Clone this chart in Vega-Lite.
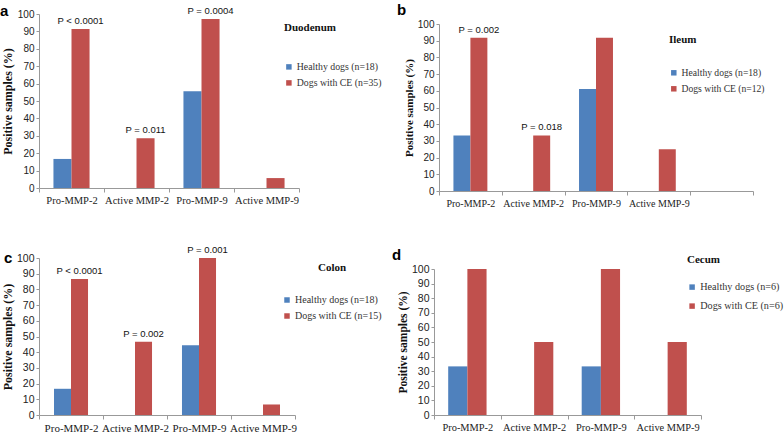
{
  "$schema": "https://vega.github.io/schema/vega-lite/v6.json",
  "padding": {"left": 0, "top": 3, "right": 0, "bottom": 0},
  "background": "white",
  "datasets": {
    "a": [
      {"cat": "Pro-MMP-2", "group": "Healthy dogs (n=18)", "value": 16.7},
      {"cat": "Active MMP-2", "group": "Healthy dogs (n=18)", "value": 0},
      {"cat": "Pro-MMP-9", "group": "Healthy dogs (n=18)", "value": 55.6},
      {"cat": "Active MMP-9", "group": "Healthy dogs (n=18)", "value": 0},
      {"cat": "Pro-MMP-2", "group": "Dogs with CE (n=35)", "value": 91.4, "p": "P < 0.0001"},
      {"cat": "Active MMP-2", "group": "Dogs with CE (n=35)", "value": 28.6, "p": "P = 0.011"},
      {"cat": "Pro-MMP-9", "group": "Dogs with CE (n=35)", "value": 97.1, "p": "P = 0.0004"},
      {"cat": "Active MMP-9", "group": "Dogs with CE (n=35)", "value": 5.7}
    ],
    "b": [
      {"cat": "Pro-MMP-2", "group": "Healthy dogs (n=18)", "value": 33.3},
      {"cat": "Active MMP-2", "group": "Healthy dogs (n=18)", "value": 0},
      {"cat": "Pro-MMP-9", "group": "Healthy dogs (n=18)", "value": 61.1},
      {"cat": "Active MMP-9", "group": "Healthy dogs (n=18)", "value": 0},
      {"cat": "Pro-MMP-2", "group": "Dogs with CE (n=12)", "value": 91.7, "p": "P = 0.002"},
      {"cat": "Active MMP-2", "group": "Dogs with CE (n=12)", "value": 33.3, "p": "P = 0.018"},
      {"cat": "Pro-MMP-9", "group": "Dogs with CE (n=12)", "value": 91.7},
      {"cat": "Active MMP-9", "group": "Dogs with CE (n=12)", "value": 25.0}
    ],
    "c": [
      {"cat": "Pro-MMP-2", "group": "Healthy dogs (n=18)", "value": 16.7},
      {"cat": "Active MMP-2", "group": "Healthy dogs (n=18)", "value": 0},
      {"cat": "Pro-MMP-9", "group": "Healthy dogs (n=18)", "value": 44.4},
      {"cat": "Active MMP-9", "group": "Healthy dogs (n=18)", "value": 0},
      {"cat": "Pro-MMP-2", "group": "Dogs with CE (n=15)", "value": 86.7, "p": "P < 0.0001"},
      {"cat": "Active MMP-2", "group": "Dogs with CE (n=15)", "value": 46.7, "p": "P = 0.002"},
      {"cat": "Pro-MMP-9", "group": "Dogs with CE (n=15)", "value": 100, "p": "P = 0.001"},
      {"cat": "Active MMP-9", "group": "Dogs with CE (n=15)", "value": 6.7}
    ],
    "d": [
      {"cat": "Pro-MMP-2", "group": "Healthy dogs (n=6)", "value": 33.3},
      {"cat": "Active MMP-2", "group": "Healthy dogs (n=6)", "value": 0},
      {"cat": "Pro-MMP-9", "group": "Healthy dogs (n=6)", "value": 33.3},
      {"cat": "Active MMP-9", "group": "Healthy dogs (n=6)", "value": 0},
      {"cat": "Pro-MMP-2", "group": "Dogs with CE (n=6)", "value": 100},
      {"cat": "Active MMP-2", "group": "Dogs with CE (n=6)", "value": 50},
      {"cat": "Pro-MMP-9", "group": "Dogs with CE (n=6)", "value": 100},
      {"cat": "Active MMP-9", "group": "Dogs with CE (n=6)", "value": 50}
    ]
  },
  "config": {
    "view": {"stroke": null},
    "axis": {
      "domainColor": "#999999",
      "tickColor": "#999999",
      "labelColor": "#222222",
      "grid": false
    },
    "axisX": {"labelFont": "Liberation Serif", "labelAngle": 0, "tickSize": 4, "labelPadding": 3, "tickBand": "extent", "title": null},
    "axisY": {"labelFont": "Liberation Sans", "tickSize": 3, "labelPadding": 2, "labelOverlap": false, "titleFont": "Liberation Serif", "titleFontWeight": "bold", "titleColor": "#111111", "titlePadding": 3},
    "legend": {"orient": "none", "symbolType": "square", "symbolStrokeWidth": 0, "labelFont": "Liberation Serif", "labelColor": "#333333", "titleFont": "Liberation Serif", "titleFontWeight": "bold", "titleColor": "#111111", "titleAnchor": "start", "padding": 0, "symbolOffset": 0, "labelOffset": 3},
    "title": {"font": "Liberation Sans", "fontWeight": "bold", "fontSize": 15, "anchor": "start", "frame": "group", "color": "#000000"},
    "text": {"font": "Liberation Sans", "fontSize": 9.5, "baseline": "bottom", "dy": -3, "color": "#111111"}
  },
  "resolve": {"scale": {"x": "independent", "y": "independent", "color": "independent", "xOffset": "independent"}, "legend": {"color": "independent"}},
  "spacing": 37,
  "vconcat": [
    {
      "spacing": 15,
      "resolve": {"scale": {"x": "independent", "y": "independent", "color": "independent", "xOffset": "independent"}, "legend": {"color": "independent"}},
      "hconcat": [
        {
          "title": {"text": "a", "dx": -39, "offset": -13},
          "width": 260, "height": 174,
          "data": {"name": "a"},
          "encoding": {
            "x": {"field": "cat", "type": "nominal", "scale": {"domain": ["Pro-MMP-2", "Active MMP-2", "Pro-MMP-9", "Active MMP-9"], "paddingInner": 0, "paddingOuter": 0}, "axis": {"labelFontSize": 10.5}},
            "xOffset": {"field": "group", "type": "nominal", "scale": {"domain": ["Healthy dogs (n=18)", "Dogs with CE (n=35)"], "paddingOuter": 0.8, "paddingInner": 0}},
            "y": {"field": "value", "type": "quantitative", "scale": {"domain": [0, 100]}, "axis": {"title": "Positive samples (%)", "titleFontSize": 12, "labelFontSize": 10, "values": [0, 10, 20, 30, 40, 50, 60, 70, 80, 90, 100]}}
          },
          "layer": [
            {"mark": {"type": "bar"},
             "encoding": {"color": {"field": "group", "type": "nominal", "scale": {"domain": ["Healthy dogs (n=18)", "Dogs with CE (n=35)"], "range": ["#4F81BD", "#C0504D"]},
               "legend": {"title": "Duodenum", "legendX": 245, "legendY": 8, "titleFontSize": 11, "titlePadding": 29, "labelFontSize": 9.8, "symbolSize": 30, "rowPadding": 5}}}},
            {"transform": [{"filter": "isValid(datum.p)"}], "mark": {"type": "text"}, "encoding": {"text": {"field": "p"}}}
          ]
        },
        {
          "title": {"text": "b", "dx": -42, "offset": -4},
          "width": 314, "height": 177,
          "data": {"name": "b"},
          "encoding": {
            "x": {"field": "cat", "type": "nominal", "scale": {"domain": ["Pro-MMP-2", "Active MMP-2", "Pro-MMP-9", "Active MMP-9", " "], "paddingInner": 0, "paddingOuter": 0}, "axis": {"labelFontSize": 10}},
            "xOffset": {"field": "group", "type": "nominal", "scale": {"domain": ["Healthy dogs (n=18)", "Dogs with CE (n=12)"], "paddingOuter": 0.85, "paddingInner": 0}},
            "y": {"field": "value", "type": "quantitative", "scale": {"domain": [0, 100], "range": [177, 10]}, "axis": {"title": "Positive samples (%)", "titleFontSize": 11, "labelFontSize": 10, "values": [0, 10, 20, 30, 40, 50, 60, 70, 80, 90, 100]}}
          },
          "layer": [
            {"mark": {"type": "bar"},
             "encoding": {"color": {"field": "group", "type": "nominal", "scale": {"domain": ["Healthy dogs (n=18)", "Dogs with CE (n=12)"], "range": ["#4F81BD", "#C0504D"]},
               "legend": {"title": "Ileum", "legendX": 230, "legendY": 20, "titleFontSize": 11, "titlePadding": 23, "labelFontSize": 9.6, "symbolSize": 30, "rowPadding": 5}}}},
            {"transform": [{"filter": "isValid(datum.p)"}], "mark": {"type": "text"}, "encoding": {"text": {"field": "p"}}}
          ]
        }
      ]
    },
    {
      "spacing": 10,
      "resolve": {"scale": {"x": "independent", "y": "independent", "color": "independent", "xOffset": "independent"}, "legend": {"color": "independent"}},
      "hconcat": [
        {
          "title": {"text": "c", "dx": -35, "offset": -21},
          "width": 256, "height": 157,
          "data": {"name": "c"},
          "encoding": {
            "x": {"field": "cat", "type": "nominal", "scale": {"domain": ["Pro-MMP-2", "Active MMP-2", "Pro-MMP-9", "Active MMP-9"], "paddingInner": 0, "paddingOuter": 0}, "axis": {"labelFontSize": 11}},
            "xOffset": {"field": "group", "type": "nominal", "scale": {"domain": ["Healthy dogs (n=18)", "Dogs with CE (n=15)"], "paddingOuter": 0.88, "paddingInner": 0}},
            "y": {"field": "value", "type": "quantitative", "scale": {"domain": [0, 100]}, "axis": {"title": "Positive samples (%)", "titleFontSize": 12, "titlePadding": 2, "labelFontSize": 10.5, "values": [0, 10, 20, 30, 40, 50, 60, 70, 80, 90, 100]}}
          },
          "layer": [
            {"mark": {"type": "bar"},
             "encoding": {"color": {"field": "group", "type": "nominal", "scale": {"domain": ["Healthy dogs (n=18)", "Dogs with CE (n=15)"], "range": ["#4F81BD", "#C0504D"]},
               "legend": {"title": "Colon", "legendX": 243, "legendY": 4, "titleFontSize": 11, "titleAnchor": "middle", "titlePadding": 22, "labelFontSize": 10, "symbolSize": 30, "rowPadding": 6}}}},
            {"transform": [{"filter": "isValid(datum.p)"}], "mark": {"type": "text"}, "encoding": {"text": {"field": "p"}}}
          ]
        },
        {
          "title": {"text": "d", "dx": -42, "offset": -9},
          "width": 267, "height": 157,
          "data": {"name": "d"},
          "encoding": {
            "x": {"field": "cat", "type": "nominal", "scale": {"domain": ["Pro-MMP-2", "Active MMP-2", "Pro-MMP-9", "Active MMP-9"], "paddingInner": 0, "paddingOuter": 0}, "axis": {"labelFontSize": 10.4}},
            "xOffset": {"field": "group", "type": "nominal", "scale": {"domain": ["Healthy dogs (n=6)", "Dogs with CE (n=6)"], "paddingOuter": 0.74, "paddingInner": 0}},
            "y": {"field": "value", "type": "quantitative", "scale": {"domain": [0, 100], "range": [157, 11]}, "axis": {"title": "Positive samples (%)", "titleFontSize": 11.5, "labelFontSize": 10.5, "values": [0, 10, 20, 30, 40, 50, 60, 70, 80, 90, 100]}}
          },
          "layer": [
            {"mark": {"type": "bar"},
             "encoding": {"color": {"field": "group", "type": "nominal", "scale": {"domain": ["Healthy dogs (n=6)", "Dogs with CE (n=6)"], "range": ["#4F81BD", "#C0504D"]},
               "legend": {"title": "Cecum", "legendX": 253, "legendY": -4, "titleFontSize": 11, "titlePadding": 17, "labelFontSize": 10.2, "symbolSize": 30, "rowPadding": 8}}}}
          ]
        }
      ]
    }
  ]
}
